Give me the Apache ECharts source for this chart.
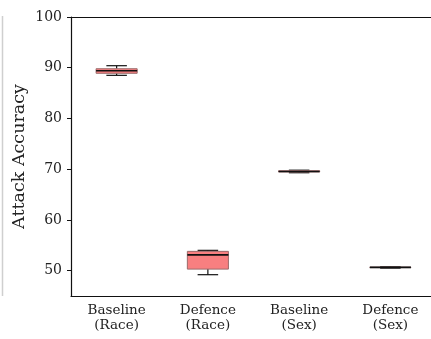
<!DOCTYPE html>
<html>
<head>
<meta charset="utf-8">
<script src="https://cdn.jsdelivr.net/npm/echarts@6/dist/echarts.min.js"></script>
<style>
  html, body { margin: 0; padding: 0; background: #fff; }
  #chart { width: 431px; height: 339px; }
</style>
</head>
<body>
<div id="chart"></div>
<script>
// Attack accuracy distributions, one box per setting
const categories = ['Baseline\n(Race)', 'Defence\n(Race)', 'Baseline\n(Sex)', 'Defence\n(Sex)'];
const whiskerLow  = [88.5, 49.2, 69.3, 50.5];
const quartile1   = [88.9, 50.3, 69.45, 50.6];
const medians     = [89.4, 53.1, 69.55, 50.65];
const quartile3   = [89.8, 53.8, 69.7, 50.7];
const whiskerHigh = [90.4, 54.0, 69.8, 50.75];
const yTicks = [50, 60, 70, 80, 90, 100];

const boxData = categories.map((c, i) =>
  [i, whiskerLow[i], quartile1[i], medians[i], quartile3[i], whiskerHigh[i]]);

const FONT = 'DejaVu Serif';
const chart = echarts.init(document.getElementById('chart'));

function renderBox(params, api) {
  const i = api.value(0);
  const bandW = api.size([1, 0])[0];
  const boxW = bandW * 0.45;
  const capW = boxW / 2;
  const pLow = api.coord([i, api.value(1)]);
  const pQ1 = api.coord([i, api.value(2)]);
  const pMed = api.coord([i, api.value(3)]);
  const pQ3 = api.coord([i, api.value(4)]);
  const pHigh = api.coord([i, api.value(5)]);
  const cx = pMed[0];
  const line = (x1, y1, x2, y2, w) => ({
    type: 'line',
    shape: { x1, y1, x2, y2 },
    style: { stroke: '#111', lineWidth: w || 1.2 }
  });
  return {
    type: 'group',
    children: [
      line(cx, pQ3[1], cx, pHigh[1]),
      line(cx, pQ1[1], cx, pLow[1]),
      line(cx - capW / 2, pHigh[1], cx + capW / 2, pHigh[1]),
      line(cx - capW / 2, pLow[1], cx + capW / 2, pLow[1]),
      {
        type: 'rect',
        shape: { x: cx - boxW / 2, y: pQ3[1], width: boxW, height: Math.max(pQ1[1] - pQ3[1], 0.5) },
        style: { fill: '#f87f80', stroke: '#9a6a6a', lineWidth: 1 }
      },
      line(cx - boxW / 2, pMed[1], cx + boxW / 2, pMed[1], 1.6)
    ]
  };
}

chart.setOption({
  animation: false,
  backgroundColor: '#fff',
  grid: { left: 71, top: 17, right: -5, bottom: 43, outerBoundsMode: 'none', containLabel: false },
  xAxis: [{
    type: 'category',
    data: categories,
    boundaryGap: true,
    axisLine: { lineStyle: { color: '#111', width: 1.2 } },
    axisTick: { alignWithLabel: true, length: 4, lineStyle: { color: '#111' } },
    axisLabel: {
      fontFamily: FONT, fontSize: 13.5, color: '#222', lineHeight: 15, margin: 7
    }
  }, {
    // top spine of the frame
    type: 'category',
    position: 'top',
    data: categories,
    axisLine: { show: true, onZero: false, lineStyle: { color: '#111', width: 1.2 } },
    axisTick: { show: false },
    axisLabel: { show: false }
  }],
  yAxis: {
    type: 'value',
    min: 45, max: 100,
    splitLine: { show: false },
    axisLine: { show: true, lineStyle: { color: '#111', width: 1.2 } },
    axisTick: { show: true, length: 4, customValues: yTicks, lineStyle: { color: '#111' } },
    axisLabel: {
      fontFamily: FONT, fontSize: 14, color: '#222', margin: 9, customValues: yTicks
    },
    name: 'Attack Accuracy',
    nameLocation: 'middle',
    nameGap: 43,
    nameMoveOverlap: false,
    nameTextStyle: { fontFamily: FONT, fontSize: 17.5, color: '#222' }
  },
  graphic: [{
    type: 'line',
    shape: { x1: 2.5, y1: 16, x2: 2.5, y2: 296 },
    style: { stroke: '#cfcfcf', lineWidth: 1.5 }
  }],
  series: [{
    type: 'custom',
    renderItem: renderBox,
    encode: { x: 0, y: [1, 2, 3, 4, 5] },
    data: boxData
  }]
});
</script>
</body>
</html>
